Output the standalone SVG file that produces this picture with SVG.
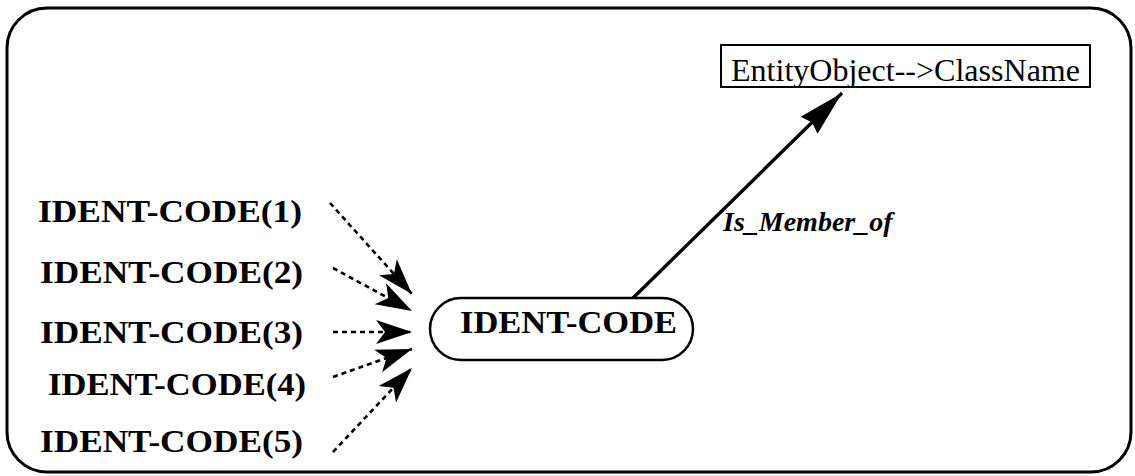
<svg xmlns="http://www.w3.org/2000/svg" width="1135" height="476" viewBox="0 0 1135 476">
  <style>
    .frame { fill: #fff; stroke: #000; stroke-width: 3; }
    .lbl { font-family: "Liberation Serif", "Times New Roman", serif; font-weight: bold; font-size: 32px; fill: #000; }
    .cls { font-family: "Liberation Serif", "Times New Roman", serif; font-size: 31px; fill: #000; }
    .rel { font-family: "Liberation Serif", "Times New Roman", serif; font-weight: bold; font-style: italic; font-size: 28px; fill: #000; }
    .dash { fill: none; stroke: #000; stroke-width: 2.6; stroke-dasharray: 5 4; marker-end: url(#head); }
    .solid { fill: none; stroke: #000; stroke-width: 3.4; marker-end: url(#bighead); }
  </style>
  <defs>
    <marker id="head" markerUnits="userSpaceOnUse" markerWidth="50" markerHeight="30" viewBox="-42 -15 46 30" refX="0" refY="0" orient="auto">
      <path d="M0,0 L-36,-12 L-27,0 L-36,12 Z" fill="#000"/>
    </marker>
    <marker id="bighead" markerUnits="userSpaceOnUse" markerWidth="56" markerHeight="32" viewBox="-50 -16 54 32" refX="0" refY="0" orient="auto">
      <path d="M0,0 L-46,-12 L-42,0 L-46,12 Z" fill="#000"/>
    </marker>
  </defs>

  <rect x="0" y="0" width="1135" height="476" fill="#fff"/>
  <!-- outer frame -->
  <rect class="frame" x="7" y="8" width="1124" height="464" rx="40" ry="40"/>

  <!-- connectors -->
  <g id="connectors">
    <path class="dash" d="M330,203 L412,294"/>
    <path class="dash" d="M333,268 L412,311"/>
    <path class="dash" d="M333,332 L412,332"/>
    <path class="dash" d="M333,377 L412,349"/>
    <path class="dash" d="M333,452 L412,368"/>
    <path class="solid" d="M633,298 L842,93"/>
    <text class="rel" x="723" y="231">Is_Member_of</text>
  </g>

  <g id="class-name">
    <rect x="721" y="45" width="369" height="42" fill="#fff" stroke="#000" stroke-width="2"/>
    <text class="cls" x="731" y="81" textLength="349" lengthAdjust="spacingAndGlyphs">EntityObject--&gt;ClassName</text>
  </g>

  <g id="ident-code">
    <rect x="430" y="298" width="263" height="62" rx="31" ry="31" fill="#fff" stroke="#000" stroke-width="2.5"/>
    <text class="lbl" x="460" y="333" textLength="217" lengthAdjust="spacingAndGlyphs">IDENT-CODE</text>
  </g>

  <g id="ident-code-1"><text class="lbl" x="38" y="222" textLength="264" lengthAdjust="spacingAndGlyphs">IDENT-CODE(1)</text></g>
  <g id="ident-code-2"><text class="lbl" x="40" y="283" textLength="263" lengthAdjust="spacingAndGlyphs">IDENT-CODE(2)</text></g>
  <g id="ident-code-3"><text class="lbl" x="40" y="343" textLength="263" lengthAdjust="spacingAndGlyphs">IDENT-CODE(3)</text></g>
  <g id="ident-code-4"><text class="lbl" x="48" y="395" textLength="258" lengthAdjust="spacingAndGlyphs">IDENT-CODE(4)</text></g>
  <g id="ident-code-5"><text class="lbl" x="40" y="452" textLength="263" lengthAdjust="spacingAndGlyphs">IDENT-CODE(5)</text></g>
</svg>
